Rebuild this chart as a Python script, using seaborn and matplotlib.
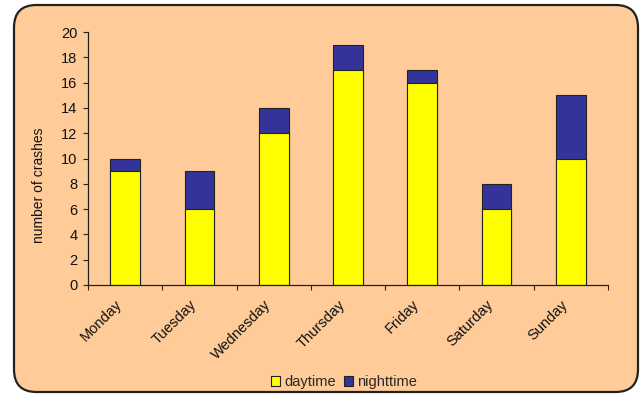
import matplotlib
matplotlib.use("Agg")
import matplotlib.pyplot as plt
import matplotlib.transforms as mtransforms
import seaborn as sns
import pandas as pd
import numpy as np
from matplotlib.patches import FancyBboxPatch, Patch

days = ["Monday", "Tuesday", "Wednesday", "Thursday", "Friday", "Saturday", "Sunday"]
daytime = [9, 6, 12, 17, 16, 6, 10]
nighttime = [1, 3, 2, 2, 1, 2, 5]
y_ticks = [0, 2, 4, 6, 8, 10, 12, 14, 16, 18, 20]

sns.set_theme(style="white")
plt.rcParams["font.family"] = ["Liberation Sans", "DejaVu Sans"]

df = pd.DataFrame({"day": days, "daytime": daytime, "nighttime": nighttime})
df["total"] = df["daytime"] + df["nighttime"]

peach = "#FFCC99"
yellow = "#FFFF00"
navy = "#333399"
ink = "#111111"

fig = plt.figure(figsize=(6.43, 3.97), dpi=100, facecolor="white")
frame = FancyBboxPatch((14 / 643, 5 / 397), 624 / 643, 387 / 397,
                       boxstyle="round,pad=0,rounding_size=0.035",
                       transform=fig.transFigure, facecolor=peach,
                       edgecolor="#222222", linewidth=1.6, zorder=-10,
                       mutation_aspect=643 / 397)
fig.patches.append(frame)

ax = fig.add_axes([88 / 643, 1 - 285 / 397, 520 / 643, 253 / 397])
ax.set_facecolor("none")
ax.set_zorder(5)

# stacked bars: total height underneath, daytime part drawn over it
sns.barplot(data=df, x="day", y="total", color=navy, saturation=1,
            width=0.4, edgecolor="#222222", linewidth=0.8, ax=ax)
sns.barplot(data=df, x="day", y="daytime", color=yellow, saturation=1,
            width=0.4, edgecolor="#222222", linewidth=0.8, ax=ax)

ax.set_ylim(0, 20)
ax.set_xlim(-0.5, 6.5)
ax.set_yticks(y_ticks)
ax.set_yticklabels([str(v) for v in y_ticks], fontsize=10.5, color=ink)
ax.set_xticks(range(len(days)))
ax.set_xticklabels(days, rotation=45, ha="right", rotation_mode="anchor",
                   fontsize=10.5, color=ink)
ax.set_xticks(np.arange(-0.5, 7, 1), minor=True)
ax.tick_params(axis="x", which="major", length=0, pad=9)
ax.tick_params(axis="x", which="minor", length=3.6, width=0.8, color="#222222", direction="out", bottom=True)
ax.tick_params(axis="y", length=3.6, width=0.8, color="#222222", direction="out", pad=4, left=True)
# nudge the slanted day names a little to the left of their bars
shift = mtransforms.ScaledTranslation(-10 / 100, 0, fig.dpi_scale_trans)
for lbl in ax.get_xticklabels():
    lbl.set_transform(lbl.get_transform() + shift)
ax.set_xlabel("")
ax.set_ylabel("")
fig.text(39 / 643, 1 - 185 / 397, "number of crashes", rotation=90,
         ha="center", va="center", fontsize=10, color=ink)
for side in ["top", "right"]:
    ax.spines[side].set_visible(False)
for side in ["left", "bottom"]:
    ax.spines[side].set_color("#222222")
    ax.spines[side].set_linewidth(0.9)

handles = [Patch(facecolor=yellow, edgecolor="#222222", linewidth=0.8, label="daytime"),
           Patch(facecolor=navy, edgecolor="#222222", linewidth=0.8, label="nighttime")]
fig.legend(handles=handles, loc="center", bbox_to_anchor=(344 / 643, 1 - 382 / 397),
           ncol=2, frameon=False, fontsize=10.5, handlelength=0.62, handleheight=0.62,
           handletextpad=0.3, columnspacing=0.5, borderpad=0, borderaxespad=0)

fig.savefig("out.png", dpi=100, facecolor="white")
